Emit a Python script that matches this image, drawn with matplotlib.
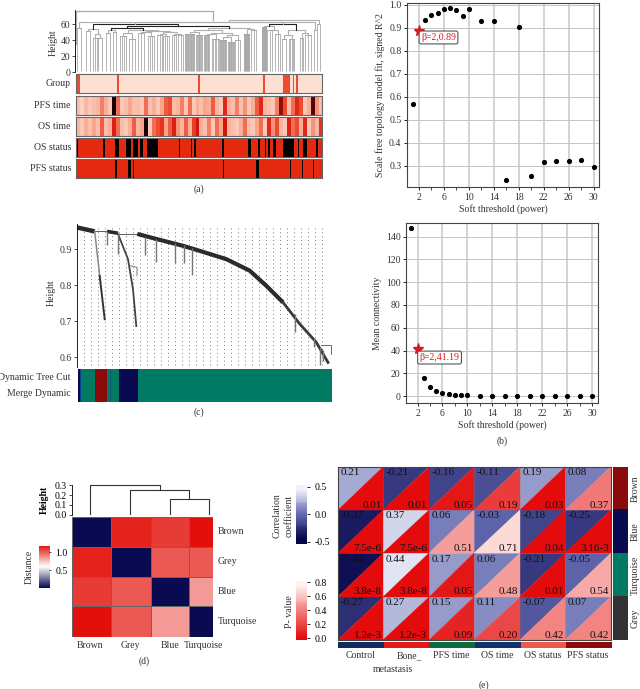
import numpy as np
import matplotlib
matplotlib.use("Agg")
from matplotlib import pyplot as plt
from matplotlib.colors import LinearSegmentedColormap, ListedColormap
from matplotlib.collections import PolyCollection

plt.rcParams["font.family"] = ["Liberation Serif", "DejaVu Serif"]
plt.rcParams["font.size"] = 7
plt.rcParams["text.color"] = "#333333"
plt.rcParams["axes.labelcolor"] = "#333333"
plt.rcParams["xtick.labelcolor"] = "#333333"
plt.rcParams["ytick.labelcolor"] = "#333333"

W, H = 640, 689
NAVY = "#0a0a50"
DRED = "#8b0a0a"
TEAL = "#007a63"
GREY = "#333333"

# ---- panel a: sample dendrogram and traits ----
clade_start = [2, 11, 18, 23, 31, 38, 45, 54, 63, 73, 82, 88, 97, 103, 110, 121, 129, 137, 145, 153, 160, 169, 176, 187, 192, 200, 207, 214, 225, 230, 239, 242, 0]
clade_end = [6, 15, 22, 27, 35, 41, 51, 60, 69, 79, 87, 94, 101, 108, 119, 127, 134, 144, 151, 159, 165, 174, 181, 191, 197, 205, 211, 219, 228, 236, 241, 245, 1]
clade_h = [55, 51, 42.5, 42.5, 49, 50, 44.5, 41.7, 49, 44.5, 46.7, 44.5, 45.8, 45.8, 48, 46.7, 45.8, 41.7, 40.4, 37.5, 40.4, 48, 52, 56, 52, 48, 41.7, 41.7, 42.5, 45.8, 52, 60.4, 35]
clade_n = [2, 2, 3, 2, 2, 2, 4, 3, 3, 4, 3, 4, 3, 3, 14, 8, 8, 6, 10, 10, 3, 12, 3, 10, 3, 3, 2, 5, 3, 3, 1, 2, 1]
# children: below 100 a clade, from 100 on an earlier merge
merge_a = [2, 1, 4, 6, 8, 10, 12, 105, 104, 103, 102, 14, 16, 18, 20, 112, 111, 21, 116, 110, 101, 24, 23, 26, 28, 123, 122, 120, 127, 30, 129]
merge_b = [3, 100, 5, 7, 9, 11, 13, 106, 107, 108, 109, 15, 17, 19, 113, 114, 115, 22, 117, 118, 119, 25, 121, 27, 29, 124, 125, 126, 0, 128, 31]
merge_h = [47, 54, 52, 49, 50, 48, 48, 50, 51, 53, 55, 50, 48, 44, 46, 49, 52, 54, 55.5, 57, 60, 53, 58, 46, 49, 52, 60, 62, 62, 63, 64.5]
top_h = 76
top_right = 138

group_spans = [(0, 4), (41, 43), (122, 124), (187, 189), (207, 214), (217, 218), (220, 222)]
os_status_spans = [(0, 2), (27, 29), (39, 43), (50, 55), (57, 62), (64, 67), (71, 82), (103, 104), (115, 116), (118, 120), (146, 148), (172, 175), (182, 184), (189, 190), (192, 194), (197, 200), (207, 218), (222, 223), (227, 231), (240, 242)]
pfs_status_spans = [(39, 41), (52, 55), (57, 58), (147, 148), (180, 183), (214, 215), (226, 227), (237, 238)]
pfs_time = [.2, .1, .25, .15, .2, .25, .45, .3, .15, 1, .5, .15, .2, .35, .2, .2, .15, .5, .2, .3, .15, .35, .55, .6, .2, .25, .45, .15, .5, .15, .3, .2, .35, .3, .55, .25, .15, .75, .3, .2, .45, .2, .4, .15, .3, .55, .75, .25, .2, .15, .45, .9, .6, .2, .5, .75, .6, .15, .3, .95, .4, .2]
os_time = [.25, .15, .3, .2, .35, .2, .55, .2, .3, .8, .5, .2, .15, .3, .55, .25, .35, 1, .15, .5, .6, .7, .35, .55, .8, .4, .25, .55, .3, .65, .85, .3, .2, .45, .15, .5, .35, .85, .25, .2, .15, .3, .5, .2, .15, .35, .5, .15, .75, .4, .6, .25, .15, .8, .5, .6, .3, .75, .15, .4, .25, .7]

# ---- panel b: soft threshold ----
powers = [1, 2, 3, 4, 5, 6, 7, 8, 9, 10, 12, 14, 16, 18, 20, 22, 24, 26, 28, 30]
r2 = [.568, .888, .935, .955, .965, .98, .985, .978, .953, .98, .93, .93, .236, .902, .253, .315, .32, .32, .325, .293]
connectivity = [147.5, 41.19, 16, 8, 4.5, 2.8, 1.8, 1.3, .9, .7, .4, .3, .2, .15, .1, .1, .1, .1, .1, .1]
power_ticks = [2, 6, 10, 14, 18, 22, 26, 30]

# ---- panel c: gene dendrogram ----
band_x = [0, 17.7, 30, 41, 60.3, 79.3, 106, 122.7, 149.3, 172.7, 189.3, 206, 222.7, 239.3, 251]
band_h = [.961, .950, .950, .943, .943, .929, .910, .896, .873, .841, .799, .753, .693, .642, .586]
branch_a_x = [17.7, 22.7, 27.7]
branch_a_h = [.95, .826, .706]
branch_d_x = [41, 51, 56, 59.3]
branch_d_h = [.943, .873, .789, .687]
twig_x = [30, 41, 67.7, 79.3, 97.7, 106.7, 115.3, 218, 237, 243, 246]
twig_top = [.95, .943, .935, .93, .918, .913, .905, .72, .655, .63, .62]
twig_low = [.913, .887, .885, .866, .862, .862, .828, .67, .63, .58, .59]
tree_cut_colors = [NAVY, "#0b3f9c", TEAL, DRED, TEAL, "#0b5a70", TEAL, NAVY, TEAL]
tree_cut_ends = [2, 3.5, 17.5, 29, 32, 33, 41, 60.5, 254.5]

# ---- panel d: module eigengene distance ----
modules = ["Brown", "Grey", "Blue", "Turquoise"]
distance = [[0, 1.13, 1.07, 1.18],
            [1.13, 0, 1.0, 1.0],
            [1.07, 1.0, 0, .84],
            [1.18, 1.0, .84, 0]]

# ---- panel e: module trait relation ----
traits = ["Control", "Bone_\nmetastasis", "PFS time", "OS time", "OS status", "PFS status"]
trait_modules = ["Brown", "Blue", "Turquoise", "Grey"]
corr = [[.21, -.21, -.16, -.11, .19, .08],
        [-.37, .37, .06, -.03, -.18, -.25],
        [-.44, .44, .17, .06, -.21, -.05],
        [-.27, .27, .15, .11, -.07, .07]]
pval = [[.01, .01, .05, .19, .03, .37],
        [7.5e-6, 7.5e-6, .51, .71, .04, 3.16e-3],
        [3.8e-8, 3.8e-8, .05, .48, .01, .54],
        [1.2e-3, 1.2e-3, .09, .20, .42, .42]]
corr_text = [["0.21", "-0.21", "-0.16", "-0.11", "0.19", "0.08"],
             ["-0.37", "0.37", "0.06", "-0.03", "-0.18", "-0.25"],
             ["-0.44", "0.44", "0.17", "0.06", "-0.21", "-0.05"],
             ["-0.27", "0.27", "0.15", "0.11", "-0.07", "0.07"]]
pval_text = [["0.01", "0.01", "0.05", "0.19", "0.03", "0.37"],
             ["7.5e-6", "7.5e-6", "0.51", "0.71", "0.04", "3.16-3"],
             ["3.8e-8", "3.8e-8", "0.05", "0.48", "0.01", "0.54"],
             ["1.2e-3", "1.2e-3", "0.09", "0.20", "0.42", "0.42"]]
trait_colors = ["#0f2a5c", "#e31a12", "#0a6b3c", "#14306c", "#ee5a4a", DRED]
side_colors = [DRED, NAVY, TEAL, GREY]

fig = plt.figure(figsize=(W / 100, H / 100), dpi=100)


def box(x0, y0, x1, y1):
    # pixel box of the reference, y measured from the top
    return fig.add_axes([x0 / W, 1 - y1 / H, (x1 - x0) / W, (y1 - y0) / H])


def label(x, y, s, **kw):
    kw.setdefault("ha", "center")
    kw.setdefault("va", "center")
    fig.text(x / W, 1 - y / H, s, **kw)


# a
ax = box(75, 10, 322, 72)
ax.set_xlim(0, 247)
ax.set_ylim(0, 77.5)
centres = {}
tops = {}
for i in range(len(clade_start)):
    xs = np.linspace(clade_start[i], clade_end[i], clade_n[i])
    ax.vlines(xs, 1, clade_h[i], color="#a8a8a8", lw=.6)
    ax.plot([clade_start[i], clade_end[i]], [clade_h[i], clade_h[i]], color="#999999", lw=.6)
    centres[i] = (clade_start[i] + clade_end[i]) / 2
    tops[i] = clade_h[i]
for j in range(len(merge_a)):
    a, b, h = merge_a[j], merge_b[j], merge_h[j]
    ax.plot([centres[a], centres[a], centres[b], centres[b]], [tops[a], h, h, tops[b]],
            color="#222222" if h in (57, 55, 60) else "#b0b0b0", lw=.8)
    centres[100 + j] = (centres[a] + centres[b]) / 2
    tops[100 + j] = h
ax.plot([centres[32], centres[32], top_right, top_right], [tops[32], top_h, top_h, tops[130]], color="#aaaaaa", lw=.9)
for s in ["top", "right", "bottom"]:
    ax.spines[s].set_visible(False)
ax.spines["left"].set_linewidth(.6)
ax.set_xticks([])
ax.set_yticks([0, 20, 40, 60])
ax.tick_params(axis="y", length=2, width=.5, pad=1.5)
label(53, 43, "Height", rotation=90)

strip_cmap = LinearSegmentedColormap.from_list("strip", [(0, "#fee3d8"), (.35, "#f8a58c"), (.6, "#ee4a30"), (.85, "#d8140c"), (1, "#1a0000")])
status_cmap = ListedColormap(["#e5290f", "#000000"])
trait_rows = [("Group", 74, 93), ("PFS time", 96, 115), ("OS time", 117, 136), ("OS status", 138, 157), ("PFS status", 159, 178)]
for name, y0, y1 in trait_rows:
    ax = box(75.5, y0, 322, y1)
    if name in ("Group", "OS status", "PFS status"):
        spans = {"Group": group_spans, "OS status": os_status_spans, "PFS status": pfs_status_spans}[name]
        col = np.zeros(247)
        for a, b in spans:
            col[a:b] = 1
        if name == "Group":
            ax.imshow(col[None, :], aspect="auto", cmap=ListedColormap(["#fee0d2", "#ee4a30"]), extent=(0, 247, 0, 1), interpolation="nearest")
        else:
            ax.imshow(col[None, :], aspect="auto", cmap=status_cmap, extent=(0, 247, 0, 1), interpolation="nearest")
    else:
        vals = pfs_time if name == "PFS time" else os_time
        ax.imshow(np.array(vals)[None, :], aspect="auto", cmap=strip_cmap, vmin=0, vmax=1, extent=(0, 247, 0, 1), interpolation="nearest")
    ax.set_xticks([])
    ax.set_yticks([])
    for s in ax.spines.values():
        s.set_color("#666666")
        s.set_linewidth(.8)
    label(71, (y0 + y1) / 2, name, ha="right")
label(199, 189, "(a)")


# b
def threshold_panel(x0, y0, x1, y1, xlim, ylim, yvals, yticks, ylabel, note, note_xy):
    ax = box(x0, y0, x1, y1)
    ax.set_xlim(*xlim)
    ax.set_ylim(*ylim)
    ax.grid(True, color="#c4c4c4", lw=.7)
    ax.set_axisbelow(True)
    ax.xaxis.grid(True, color="#c8c8c8", lw=1.1)
    ax.plot(powers, yvals, "o", color="black", ms=2.7, ls="none", zorder=3)
    ax.plot(powers[1], yvals[1], "*", color="#e3141e", ms=8, zorder=4)
    ax.annotate(note, xy=(powers[1], yvals[1]), xytext=note_xy, textcoords="offset points", color="#e3141e", fontsize=7,
                va="center", bbox=dict(boxstyle="round,pad=0.2", fc="white", ec="#555555", lw=.8), zorder=5)
    ax.set_xticks(power_ticks)
    ax.set_xticks(range(2, 31, 2), minor=True)
    ax.set_yticks(yticks)
    ax.tick_params(length=2.5, width=.6, pad=1.5)
    ax.tick_params(which="minor", length=2, width=.5)
    ax.set_xlabel("Soft threshold (power)", labelpad=2)
    ax.set_ylabel(ylabel, labelpad=3)
    for s in ax.spines.values():
        s.set_color("#444444")
        s.set_linewidth(.8)
    return ax


threshold_panel(407, 2.5, 599, 187, (.08, 30.85), (.207, 1.01), r2, [.3, .4, .5, .6, .7, .8, .9, 1.0],
                "Scale free topology model fit, signed R^2", "β=2,0.89", (1.5, -5))
threshold_panel(406, 223.5, 597.7, 403, (.15, 30.9), (-6, 151.5), connectivity, [0, 20, 40, 60, 80, 100, 120, 140],
                "Mean connectivity", "β=2,41.19", (1.5, -6))
label(501.7, 441.5, "(b)")

# c
ax = box(77, 224, 332, 366.7)
ax.set_xlim(0, 255)
ax.set_ylim(.5742, .9706)
ax.vlines(np.arange(7, 250, 7), .58, .965, color="#777777", lw=.7, linestyles=(0, (1, 3)))
ax.plot(band_x[:2], band_h[:2], color="#2b2b2b", lw=3.2, solid_capstyle="butt")
ax.plot([17.7, 30], [.95, .95], color="#444444", lw=.6)
ax.plot([30, 41], [.95, .945], color="#2b2b2b", lw=2.6, solid_capstyle="butt")
ax.plot([41, 60.3], [.943, .943], color="#444444", lw=.6)
ax.plot(band_x[4:12], band_h[4:12], color="#2b2b2b", lw=3, solid_capstyle="butt", solid_joinstyle="round")
ax.plot(band_x[11:], band_h[11:], color="#3a3a3a", lw=2, solid_joinstyle="round")
ax.plot(branch_a_x[:2], branch_a_h[:2], color="#888888", lw=1.1)
ax.plot(branch_a_x[1:], branch_a_h[1:], color="#333333", lw=1.4)
ax.plot(branch_d_x, branch_d_h, color="#444444", lw=1.3)
ax.vlines(twig_x, twig_low, twig_top, color="#777777", lw=1)
ax.plot([53, 60, 60], [.855, .85, .827], color="#666666", lw=.6)
ax.plot([244, 254, 254], [.635, .635, .61], color="#555555", lw=.6)
for s in ["top", "right", "bottom"]:
    ax.spines[s].set_visible(False)
ax.spines["left"].set_linewidth(.6)
ax.set_xticks([])
ax.set_yticks([.6, .7, .8, .9])
ax.tick_params(axis="y", length=2, width=.5, pad=2)
label(51, 293, "Height", rotation=90)

ax = box(77.5, 369, 332, 402)
ax.set_xlim(0, 254.5)
ax.set_ylim(0, 1)
starts = [0] + tree_cut_ends[:-1]
ax.barh([.5] * len(starts), np.array(tree_cut_ends) - np.array(starts), left=starts, height=1, color=tree_cut_colors)
ax.axis("off")
label(71, 377, "Dynamic Tree Cut", ha="right")
label(71, 394, "Merge Dynamic", ha="right")
label(199, 412, "(c)")

# d
cmap_d = LinearSegmentedColormap.from_list("dist", [NAVY, "#ffffff", "#e2100a"])
ax = box(71.7, 516.7, 213.3, 636.7)
col_edges = [0, 117, 237, 353, 425]
row_edges = [0, 90, 180, 268, 360]
ax.pcolormesh(col_edges, row_edges, np.array(distance), cmap=cmap_d, vmin=0, vmax=1.18, edgecolors="#666666", linewidth=.5)
ax.set_ylim(360, 0)
ax.axis("off")
for i, m in enumerate(modules):
    label(217.5, 516.7 + (row_edges[i] + row_edges[i + 1]) / 6, m, ha="left")
for x, m in zip([90, 130, 170, 203], modules):
    label(x, 645, m)
label(144, 661.5, "(d)")

ax = box(71.7, 482, 213.3, 514.5)
ax.set_xlim(-56 / 118, 3 + 12 / 118)
ax.set_ylim(0, .335)
ax.plot([2, 2, 3, 3], [0, .162, .162, 0], color="#333333", lw=.8)
ax.plot([1, 1, 2.5, 2.5], [0, .25, .25, .162], color="#333333", lw=.8)
ax.plot([0, 0, 1.75, 1.75], [0, .307, .307, .25], color="#333333", lw=.8)
for s in ["top", "right", "bottom"]:
    ax.spines[s].set_visible(False)
ax.spines["left"].set_linewidth(.6)
ax.spines["left"].set_bounds(0, .3)
ax.set_xticks([])
ax.set_yticks([0, .1, .2, .3], ["0.0", "0.1", "0.2", "0.3"])
ax.tick_params(axis="y", length=2, width=.5, pad=1.5, labelcolor="black")
label(44.5, 500, "Height", rotation=90, color="black", fontweight="bold")

cax = box(38.7, 546, 49.3, 588.3)
cax.imshow(np.linspace(1.18, 0, 64)[:, None], aspect="auto", cmap=cmap_d, vmin=0, vmax=1.18, extent=(0, 1, -.017, 1.18))
cax.set_xticks([])
cax.yaxis.tick_right()
cax.set_yticks([.5, 1.0])
cax.tick_params(axis="y", length=1.5, width=.5, pad=3, labelcolor="black")
for s in cax.spines.values():
    s.set_visible(False)
label(29, 567, "Distance", rotation=90)

# e
cmap_r = LinearSegmentedColormap.from_list("corr", [(0, "#05054a"), (.5, "#6268ae"), (1, "#f0f3fb")], N=20)
cmap_p = LinearSegmentedColormap.from_list("pv", [(0, "#e30b0b"), (1, "#fff2ee")], N=20)
ax = box(337.7, 466.7, 610.7, 640)
ax.set_xlim(0, 6)
ax.set_ylim(4, 0)
up, low, cup, clow = [], [], [], []
for r in range(4):
    for c in range(6):
        up.append([(c, r), (c + 1, r), (c, r + 1)])
        low.append([(c + 1, r), (c + 1, r + 1), (c, r + 1)])
        cup.append(cmap_r((corr[r][c] + .5) / 1.0))
        clow.append(cmap_p(pval[r][c] / .8))
        ax.text(c + .06, r + .03, corr_text[r][c], ha="left", va="top", color="#111111", fontsize=8, zorder=4)
        ax.text(c + .97, r + .99, pval_text[r][c], ha="right", va="bottom", color="#111111", fontsize=8, zorder=4)
ax.add_collection(PolyCollection(up, facecolors=cup, edgecolors=cup, linewidths=.3))
ax.add_collection(PolyCollection(low, facecolors=clow, edgecolors=clow, linewidths=.3))
ax.set_xticks([])
ax.set_yticks([])
for s in ax.spines.values():
    s.set_color("#444444")
    s.set_linewidth(.8)

ax = box(612.7, 466.7, 627.3, 640)
ax.imshow(np.arange(4)[:, None], aspect="auto", cmap=ListedColormap(side_colors))
ax.axis("off")
for i, m in enumerate(trait_modules):
    label(635, 466.7 + (i + .5) * 43.3, m, rotation=90)

ax = box(337.7, 642, 610.7, 648)
ax.imshow(np.arange(6)[None, :], aspect="auto", cmap=ListedColormap(trait_colors))
ax.axis("off")
for i, t in enumerate(traits):
    cx = 337.7 + (i + .5) * 45.5
    if "\n" in t:
        a, b = t.split("\n")
        label(cx + 3, 656, a)
        label(cx - 13, 669, b)
    else:
        label(cx, 656, t)
label(483.5, 685, "(e)")

cax = box(296, 485, 306.7, 543.5)
cax.imshow(np.linspace(.53, -.53, 20)[:, None], aspect="auto", cmap=cmap_r, vmin=-.5, vmax=.5, extent=(0, 1, -.53, .53))
cax.set_xticks([])
cax.yaxis.tick_right()
cax.set_yticks([-.5, 0, .5], ["-0.5", "0.0", "0.5"])
cax.tick_params(axis="y", length=2.5, width=.6, pad=3, labelcolor="black")
for s in cax.spines.values():
    s.set_visible(False)
label(277, 516, "Correlation", rotation=90)
label(289, 516, "coefficient", rotation=90)

cax = box(296, 581, 306.7, 639.5)
cax.imshow(np.linspace(.82, 0, 20)[:, None], aspect="auto", cmap=cmap_p, vmin=0, vmax=.8, extent=(0, 1, -.02, .82))
cax.set_xticks([])
cax.yaxis.tick_right()
cax.set_yticks([0, .2, .4, .6, .8], ["0.0", "0.2", "0.4", "0.6", "0.8"])
cax.tick_params(axis="y", length=2.5, width=.6, pad=3, labelcolor="black")
for s in cax.spines.values():
    s.set_visible(False)
label(289, 612, "P- value", rotation=90)

fig.savefig("out.png", dpi=100)
